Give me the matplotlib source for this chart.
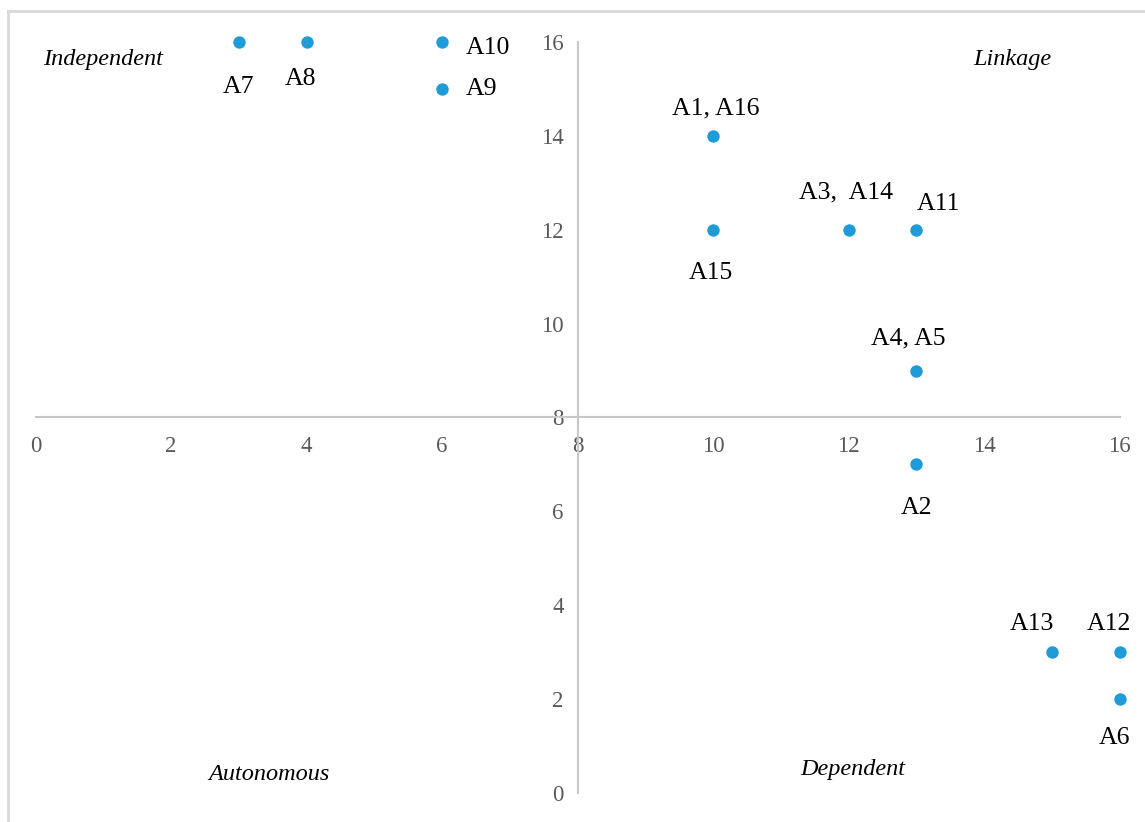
import matplotlib.pyplot as plt
from matplotlib.lines import Line2D

# factor positions (x = dependence, y = driving power)
names = ['A7', 'A8', 'A10', 'A9', 'A1, A16', 'A15', 'A3,  A14', 'A11',
         'A4, A5', 'A2', 'A13', 'A12', 'A6']
dependence = [3, 4, 6, 6, 10, 10, 12, 13, 13, 13, 15, 16, 16]
driving = [16, 16, 16, 15, 14, 12, 12, 12, 9, 7, 3, 3, 2]

# label offsets in pixels from each point
offsets = [(0, -45), (-6, -37), (46, -6), (39, 0), (3, 27), (-2, -43),
           (-3, 37), (22, 26), (-8, 32), (0, -44), (-20, 28), (-11, 28), (-5, -39)]

quadrants = ['Independent', 'Linkage', 'Autonomous', 'Dependent']
quad_x = [0.99, 14.41, 3.44, 12.06]
quad_y = [15.62, 15.62, 0.40, 0.51]

ticks = [0, 2, 4, 6, 8, 10, 12, 14, 16]

plt.rcParams['font.family'] = ['Liberation Serif', 'DejaVu Serif']

fig = plt.figure(figsize=(11.45, 8.22), dpi=100)
ax = fig.add_axes([0.0311, 0.0353, 0.9467, 0.9136])

ax.scatter(dependence, driving, s=80, color='#1f9bd8', zorder=3,
           linewidths=0, clip_on=False)

for name, x, y, off in zip(names, dependence, driving, offsets):
    ax.annotate(name, (x, y), xytext=off, textcoords='offset pixels',
                ha='center', va='center', fontsize=18.5, color='black')

for q, x, y in zip(quadrants, quad_x, quad_y):
    ax.text(x, y, q, ha='center', va='center', fontsize=17.5, style='italic')

ax.set_xlim(0, 16)
ax.set_ylim(0, 16)
ax.set_xticks(ticks)
ax.set_yticks(ticks)

# axes crossing at (8, 8)
ax.spines['left'].set_position(('data', 8))
ax.spines['bottom'].set_position(('data', 8))
ax.spines['right'].set_visible(False)
ax.spines['top'].set_visible(False)
for s in ['left', 'bottom']:
    ax.spines[s].set_color('#c8c8c8')
    ax.spines[s].set_linewidth(1.5)

ax.tick_params(axis='x', length=0, pad=13, labelsize=16.5, labelcolor='#595959')
ax.tick_params(axis='y', length=0, pad=10, labelsize=16.5, labelcolor='#595959')

# light frame on left and top edges
fig.add_artist(Line2D([7.5 / 1145, 7.5 / 1145], [0, 1 - 11.5 / 822],
                      transform=fig.transFigure, color='#d9d9d9', lw=2))
fig.add_artist(Line2D([7.5 / 1145, 1], [1 - 11.5 / 822, 1 - 11.5 / 822],
                      transform=fig.transFigure, color='#d9d9d9', lw=2))

fig.savefig('out.png', dpi=100)
